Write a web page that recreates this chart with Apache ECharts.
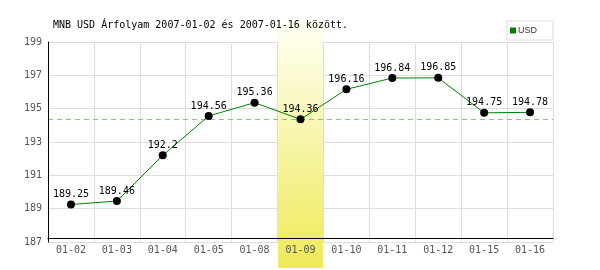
<!DOCTYPE html>
<html><head><meta charset="utf-8">
<script src="https://cdn.jsdelivr.net/npm/echarts@6/dist/echarts.min.js"></script>
<style>html,body{margin:0;padding:0;background:#fff}#c{width:600px;height:270px}</style>
</head><body><div id="c"></div>
<script>
const titleText = 'MNB USD Árfolyam 2007-01-02 és 2007-01-16 között.';
const seriesName = 'USD';
const categories = ['01-02','01-03','01-04','01-05','01-08','01-09','01-10','01-11','01-12','01-15','01-16'];
const values = [189.25,189.46,192.2,194.56,195.36,194.36,196.16,196.84,196.85,194.75,194.78];
const highlightCat = '01-09';
const yMin = 187, yMax = 199, yStep = 2;

const mono = 'DejaVu Sans Mono';
const hlValue = values[categories.indexOf(highlightCat)];
const chart = echarts.init(document.getElementById('c'), null, {renderer:'canvas'});
const option = {
  animation:false,
  backgroundColor:'#fff',
  title:{text:titleText,left:53,top:20,padding:0,textStyle:{fontFamily:mono,fontSize:10,fontWeight:'normal',color:'#000'}},
  legend:{data:[{name:seriesName,itemStyle:{color:'#008000'}}],right:47,top:21,icon:'rect',itemWidth:6,itemHeight:6,itemGap:0,
    padding:[5,16,5,3],borderColor:'#ddd',borderWidth:1,backgroundColor:'#fff',
    textStyle:{fontFamily:'Liberation Sans Narrow, Liberation Sans',fontSize:9,color:'#333',padding:[0,0,0,-3]}},
  grid:{left:48,right:47,top:42,bottom:28},
  xAxis:[{type:'category',data:categories,position:'bottom',boundaryGap:true,z:0,
      axisLine:{show:false},axisTick:{show:false},axisLabel:{show:false},
      splitLine:{show:true,interval:0,lineStyle:{color:'#ddd',width:1}}},
    {type:'category',data:categories,position:'bottom',offset:-4,z:5,
      axisLine:{show:true,lineStyle:{color:'#000',width:1}},axisTick:{show:false},splitLine:{show:false},
      axisLabel:{interval:0,margin:7,fontFamily:mono,fontSize:10,color:'#555'}}],
  yAxis:[{type:'value',min:yMin,max:yMax,interval:yStep,z:0,position:'left',
      axisLine:{show:false},axisTick:{show:false},
      splitLine:{show:true,lineStyle:{color:'#ddd',width:1}},
      axisLabel:{margin:6,fontFamily:mono,fontSize:10,color:'#555'}},
    {type:'value',min:yMin,max:yMax,interval:yStep,z:5,position:'left',
      axisLine:{show:true,lineStyle:{color:'#000',width:1}},axisTick:{show:false},
      splitLine:{show:false},axisLabel:{show:false}}],
  series:[
    {name:'avgline',type:'line',data:[],z:0,silent:true,xAxisIndex:0,yAxisIndex:0,
      markLine:{silent:true,symbol:'none',label:{show:false},
        lineStyle:{color:'#88c488',type:[5,4],width:1},data:[{yAxis:hlValue}]}},
    {name:seriesName,type:'line',data:values,z:10,xAxisIndex:0,yAxisIndex:0,
      lineStyle:{color:'#008000',width:1},
      itemStyle:{color:'#000'},
      symbol:'circle',symbolSize:8,
      label:{show:true,position:'top',distance:1,fontFamily:mono,fontSize:10,color:'#000'}}
  ]
};
chart.setOption(option);
const cx = chart.convertToPixel({xAxisIndex:0}, highlightCat);
const i = categories.indexOf(highlightCat);
const cx2 = chart.convertToPixel({xAxisIndex:0}, categories[i+1] || categories[i-1]);
const bw = Math.abs(cx2 - cx);
chart.setOption({graphic:[{type:'rect',z:1,silent:true,
  shape:{x:cx-bw/2+0.5,y:22,width:bw-1,height:246},
  style:{fill:new echarts.graphic.LinearGradient(0,0,0,1,[{offset:0,color:'#fffff4'},{offset:1,color:'#eeea58'}])}}]});
</script></body></html>
